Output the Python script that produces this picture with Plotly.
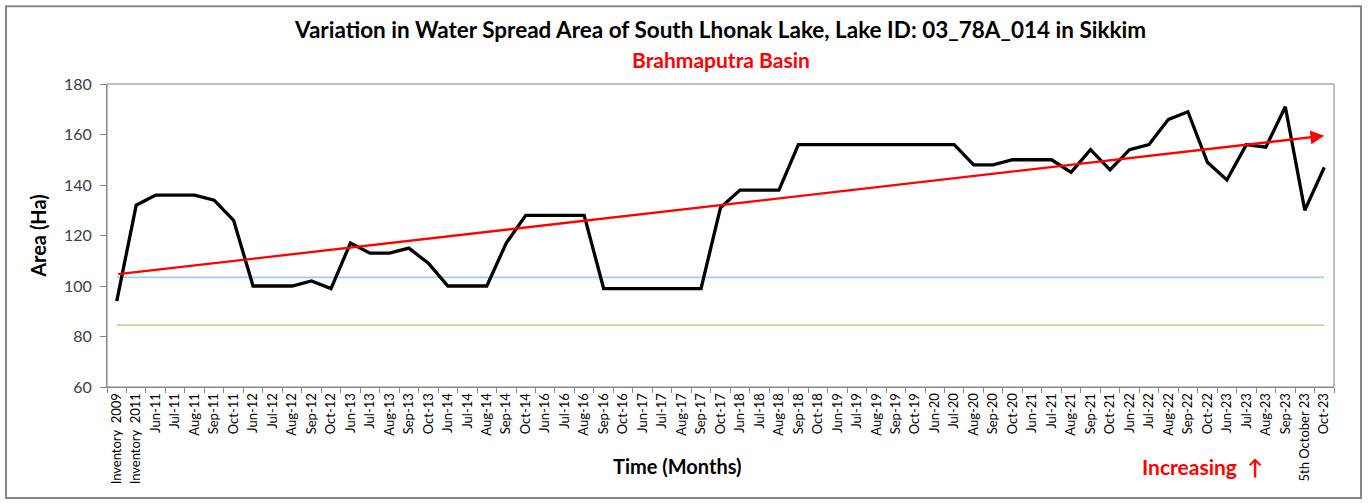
import plotly.graph_objects as go

categories = [
    "Inventory  2009", "Inventory  2011", "Jun-11", "Jul-11", "Aug-11", "Sep-11", "Oct-11",
    "Jun-12", "Jul-12", "Aug-12", "Sep-12", "Oct-12",
    "Jun-13", "Jul-13", "Aug-13", "Sep-13", "Oct-13",
    "Jun-14", "Jul-14", "Aug-14", "Sep-14", "Oct-14",
    "Jun-16", "Jul-16", "Aug-16", "Sep-16", "Oct-16",
    "Jun-17", "Jul-17", "Aug-17", "Sep-17", "Oct-17",
    "Jun-18", "Jul-18", "Aug-18", "Sep-18", "Oct-18",
    "Jun-19", "Jul-19", "Aug-19", "Sep-19", "Oct-19",
    "Jun-20", "Jul-20", "Aug-20", "Sep-20", "Oct-20",
    "Jun-21", "Jul-21", "Aug-21", "Sep-21", "Oct-21",
    "Jun-22", "Jul-22", "Aug-22", "Sep-22", "Oct-22",
    "Jun-23", "Jul-23", "Aug-23", "Sep-23", "5th October 23", "Oct-23",
]

area_ha = [
    94, 132, 136, 136, 136, 134, 126,
    100, 100, 100, 102, 99,
    117, 113, 113, 115, 109,
    100, 100, 100, 117, 128,
    128, 128, 128, 99, 99,
    99, 99, 99, 99, 131,
    138, 138, 138, 156, 156,
    156, 156, 156, 156, 156,
    156, 156, 148, 148, 150,
    150, 150, 145, 154, 146,
    154, 156, 166, 169, 149,
    142, 156, 155, 171, 130, 147,
]

blue_level = 103.4
green_level = 84.5
trend_start = 104.6
trend_end = 159.5

FONT = "Lato"

fig = go.Figure()
fig.add_trace(go.Scatter(x=categories, y=[green_level] * len(categories), mode="lines",
                         line=dict(color="#C3D69B", width=1.6), hoverinfo="skip"))
fig.add_trace(go.Scatter(x=categories, y=[blue_level] * len(categories), mode="lines",
                         line=dict(color="#A2CFE0", width=1.6), hoverinfo="skip"))
fig.add_trace(go.Scatter(x=categories, y=area_ha, mode="lines",
                         line=dict(color="#000000", width=3.3)))

fig.add_annotation(x=categories[-1], y=trend_end, xref="x", yref="y",
                   ax=categories[0], ay=trend_start, axref="x", ayref="y",
                   showarrow=True, arrowhead=2, arrowsize=1.2, arrowwidth=2.3,
                   arrowcolor="#FF0000", text="")

fig.add_annotation(text="<b>Variation in Water Spread Area of South Lhonak Lake, Lake ID: 03_78A_014 in Sikkim</b>",
                   xref="paper", yref="paper", x=0.4996, y=1.0, yshift=55, xanchor="center", yanchor="middle",
                   showarrow=False, font=dict(family=FONT, size=22.5, color="#000000"))
fig.add_annotation(text="<b>Brahmaputra Basin</b>", xref="paper", yref="paper", x=0.5, y=1.0,
                   xanchor="center", yanchor="middle", yshift=25, showarrow=False,
                   font=dict(family=FONT, size=21, color="#FF0000"))

fig.add_annotation(text="<b>Time (Months)</b>", xref="paper", yref="paper", x=0.465, y=-0.261,
                   xanchor="center", yanchor="middle", showarrow=False,
                   font=dict(family=FONT, size=20, color="#000000"))
fig.add_annotation(text="<b>Increasing  \u2191</b>", xref="paper", yref="paper", x=0.893, y=-0.261,
                   xanchor="center", yanchor="middle", showarrow=False,
                   font=dict(family=FONT, size=21, color="#FF0000"))

fig.update_layout(
    width=1368, height=503,
    margin=dict(l=107, r=34, t=84, b=116),
    paper_bgcolor="white", plot_bgcolor="white",
    showlegend=False,
    font=dict(family=FONT, color="#404040"),
    shapes=[
        dict(type="rect", xref="paper", yref="paper", x0=0, x1=1, y0=0, y1=1,
             line=dict(color="#868686", width=1)),
        dict(type="rect", xref="paper", yref="paper", x0=-0.0823, x1=1.022, y0=-0.366, y1=1.257,
             line=dict(color="#868686", width=2)),
    ],
    xaxis=dict(type="category", range=[-0.5, len(categories) - 0.5],
               tickson="boundaries", ticks="outside", ticklen=5,
               tickcolor="#868686", showline=True, linecolor="#868686", linewidth=1,
               tickangle=-90, tickfont=dict(family=FONT, size=13, color="#000000"),
               showgrid=False, automargin=False),
    yaxis=dict(range=[60, 180], dtick=20, ticks="outside", ticklen=6, tickcolor="#868686",
               showline=True, linecolor="#868686", linewidth=1, showgrid=False, zeroline=False,
               ticklabelstandoff=5,
               tickfont=dict(family=FONT, size=16, color="#404040"),
               title=dict(text="<b>Area (Ha)</b>", font=dict(family=FONT, size=20, color="#000000"), standoff=11),
               automargin=False),
)

fig.write_html("out.html", config={"displayModeBar": False},
               post_script="document.body.style.margin='0';")
